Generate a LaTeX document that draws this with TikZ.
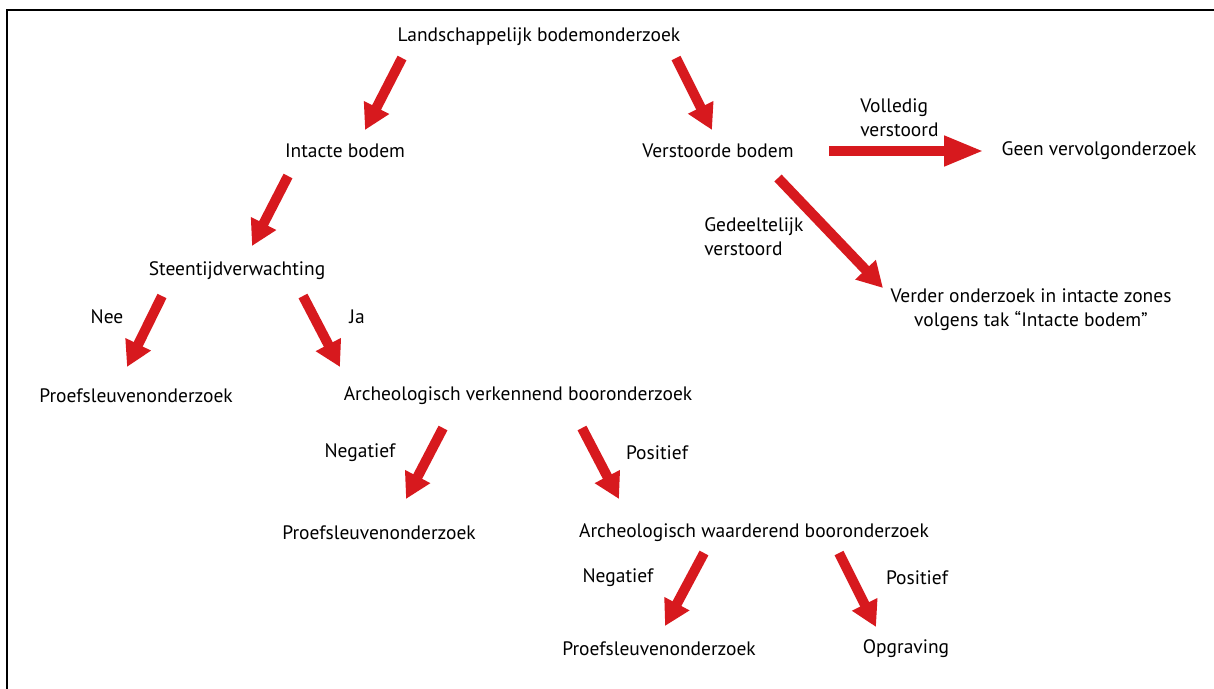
\documentclass[tikz,border=0pt]{standalone}
\usepackage{fontspec}
\setmainfont{PT Sans}
\usetikzlibrary{arrows.meta}
\definecolor{pijlrood}{RGB}{215,25,30}

\begin{document}
\begin{tikzpicture}[x=0.75pt,y=-0.75pt]
\tikzset{every node/.style={font=\fontsize{14.6}{18}\selectfont, inner sep=0pt},
  pijl/.style={draw=pijlrood, line width=7.5pt, -{Triangle[length=19pt,width=20pt]}},
  langepijl/.style={pijl, -{Triangle[length=30pt,width=21pt]}},
  label/.style={align=left}}
\useasboundingbox (0,0) rectangle (1214,689);
% rand links en boven
\draw [line width=1.6pt] (7,689) -- (7,10) -- (1214,10);
% knopen
\node (land) at (539,37) {Landschappelijk bodemonderzoek};
\node (intact) at (345,151) {Intacte bodem};
\node (verst) at (718,151) {Verstoorde bodem};
\node (geen) at (1099,151) {Geen vervolgonderzoek};
\node (verder) [align=center] at (1031,310) {Verder onderzoek in intacte zones\\volgens tak “Intacte bodem”};
\node (steen) at (237,271) {Steentijdverwachting};
\node (proef1) at (136,396) {Proefsleuvenonderzoek};
\node (verk) at (518,396) {Archeologisch verkennend booronderzoek};
\node (proef2) at (379,533) {Proefsleuvenonderzoek};
\node (waard) at (754,533) {Archeologisch waarderend booronderzoek};
\node (proef3) at (659,649) {Proefsleuvenonderzoek};
\node (opgr) at (906,649) {Opgraving};
% labels bij de pijlen
\node (vol) [label, anchor=west] at (860,118) {Volledig\\verstoord};
\node (ged) [label, anchor=west] at (704,237) {Gedeeltelijk\\verstoord};
\node (nee) at (107,317) {Nee};
\node (ja) at (357,317) {Ja};
\node (neg1) at (360,453) {Negatief};
\node (pos1) at (657,453) {Positief};
\node (neg2) at (618,578) {Negatief};
\node (pos2) at (917,578) {Positief};
% begin- en eindpunten van de pijlen
\coordinate (p1s) at (402,58);  \coordinate (p1e) at (365,130);
\coordinate (p2s) at (676,58);  \coordinate (p2e) at (712,130);
\coordinate (p3s) at (288,176); \coordinate (p3e) at (252,246);
\coordinate (p4s) at (162,296); \coordinate (p4e) at (127,367);
\coordinate (p5s) at (303,296); \coordinate (p5e) at (340,367);
\coordinate (p7s) at (778,178); \coordinate (p7e) at (883,288);
\coordinate (p8s) at (443,428); \coordinate (p8e) at (406,499);
\coordinate (p9s) at (582,428); \coordinate (p9e) at (619,499);
\coordinate (p10s) at (704,553); \coordinate (p10e) at (665,626);
\coordinate (p11s) at (839,553); \coordinate (p11e) at (876,627);
\foreach \i in {1,2,3,4,5,7,8,9,10,11}
  \draw [pijl] (p\i s) -- (p\i e);
% horizontale pijl naar geen vervolgonderzoek
\coordinate (p6s) at (829,151); \coordinate (p6e) at (984,151);
\draw [langepijl] (p6s) -- (p6e);
\end{tikzpicture}
\end{document}
